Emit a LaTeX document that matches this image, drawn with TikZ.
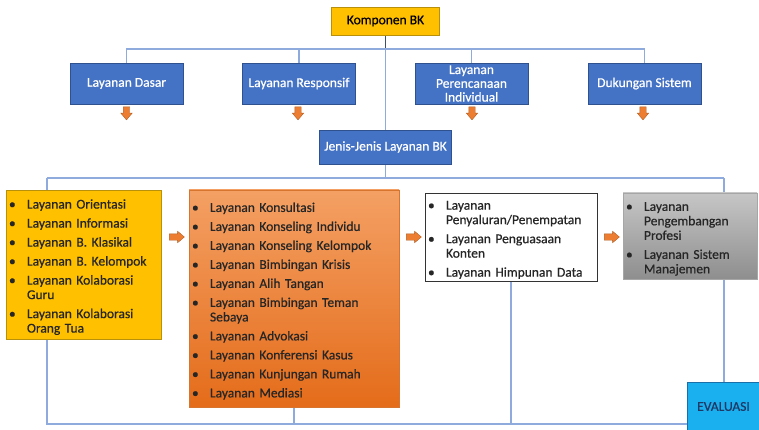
\documentclass[tikz,border=0pt]{standalone}
\usepackage{fontspec}
\setmainfont{Carlito}[FakeBold=0.6]
\usetikzlibrary{shapes.arrows,backgrounds}
\definecolor{gold}{HTML}{FFC000}
\definecolor{golddark}{HTML}{B8900A}
\definecolor{bluebox}{HTML}{4472C4}
\definecolor{blueedge}{HTML}{2F528F}
\definecolor{linec}{HTML}{8FAADC}
\definecolor{linedark}{HTML}{3E4F6A}
\definecolor{orangetop}{HTML}{F4A064}
\definecolor{orangebot}{HTML}{E46C1A}
\definecolor{orangeedge}{HTML}{D7742E}
\definecolor{arrowc}{HTML}{ED7D31}
\definecolor{arrowedge}{HTML}{B05F24}
\definecolor{graytop}{HTML}{C6C6C6}
\definecolor{graybot}{HTML}{8E8E8E}
\definecolor{evalc}{HTML}{1AAFEF}
\definecolor{evaledge}{HTML}{1B6FA8}
\definecolor{evaltext}{HTML}{1F3864}
\definecolor{listtext}{HTML}{262626}
\newcommand{\fsz}{\fontsize{13.5}{14.5}\selectfont}
\newenvironment{blist}{\begin{list}{\textbullet}{\setlength\leftmargin{18pt}\setlength\labelwidth{18pt}\setlength\labelsep{0pt}\setlength\itemsep{4.5pt}\setlength\parsep{0pt}\setlength\topsep{0pt}\setlength\partopsep{0pt}\renewcommand\makelabel[1]{##1\hfil}}}{\end{list}}
\tikzset{
  bluenode/.style={draw=blueedge, line width=0.6pt, fill=bluebox, text=white, minimum width=113pt, minimum height=41pt, inner sep=1pt, align=center, font=\fsz},
  listbox/.style={inner xsep=3pt, inner ysep=0pt, align=left, font=\fsz, text=listtext},
  conn/.style={draw=linec, line width=1.3pt},
  blockarrow/.style={single arrow, fill=arrowc, draw=arrowedge, line width=0.4pt, single arrow head extend=2.5pt, single arrow tip angle=80},
  darrow/.style={blockarrow, shape border rotate=270, inner xsep=3pt, inner ysep=0pt, minimum height=13pt},
  rarrow/.style={blockarrow, inner xsep=0pt, inner ysep=3pt, minimum height=15pt}
}
\begin{document}
\begin{tikzpicture}[x=1pt,y=-1pt]
\useasboundingbox (0,0) rectangle (759,430);
% top
\node[draw=golddark, line width=0.7pt, fill=gold, minimum width=108pt, minimum height=28pt, font=\fsz, inner sep=1pt] (komp) at (385.5,21) {Komponen BK};
\node[bluenode] (dasar) at (126.5,83.5) {Layanan Dasar};
\node[bluenode] (resp) at (299,83.5) {Layanan Responsif};
\node[bluenode, font=\fontsize{13.5}{13.8}\selectfont] (peren) at (471.5,83.5) {Layanan\\Perencanaan\\Individual};
\node[bluenode] (duk) at (644.5,83.5) {Dukungan Sistem};
\node[darrow] (d1) at (126.5,111.5) {};
\node[darrow] (d2) at (298,111.5) {};
\node[darrow] (d3) at (472,111.5) {};
\node[darrow] (d4) at (643,111.5) {};
\node[bluenode, minimum width=132pt, minimum height=34pt] (jenis) at (385.5,147) {Jenis-Jenis Layanan BK};
% list boxes
\node[listbox, draw=golddark, line width=0.6pt, fill=gold, text width=149pt, minimum height=149pt] (yel) at (83.5,264.5) {%
\begin{blist}
\item Layanan Orientasi
\item Layanan Informasi
\item Layanan B. Klasikal
\item Layanan B. Kelompok
\item Layanan Kolaborasi\\Guru
\item Layanan Kolaborasi\\Orang Tua
\end{blist}};
\node[listbox, draw=orangeedge, line width=0.4pt, top color=orangetop, bottom color=orangebot, text width=204pt, minimum height=217pt] (oran) at (294,298.5) {%
\begin{blist}
\item Layanan Konsultasi
\item Layanan Konseling Individu
\item Layanan Konseling Kelompok
\item Layanan Bimbingan Krisis
\item Layanan Alih Tangan
\item Layanan Bimbingan Teman\\Sebaya
\item Layanan Advokasi
\item Layanan Konferensi Kasus
\item Layanan Kunjungan Rumah
\item Layanan Mediasi
\end{blist}};
\node[listbox, draw=black!80, line width=0.8pt, fill=white, text width=166pt, minimum height=88pt] (wh) at (511,237) {%
\begin{blist}
\item Layanan\\Penyaluran/Penempatan
\item Layanan Penguasaan\\Konten
\item Layanan Himpunan Data
\end{blist}};
\node[listbox, draw=gray!70, line width=0.3pt, top color=graytop, bottom color=graybot, text width=128pt, minimum height=86pt] (gr) at (690,236) {%
\begin{blist}
\item Layanan\\Pengembangan\\Profesi
\item Layanan Sistem\\Manajemen
\end{blist}};
\node[rarrow] (r1) at (175,237) {};
\node[rarrow] (r2) at (412,237) {};
\node[rarrow] (r3) at (610,237) {};
\node[draw=evaledge, line width=0.6pt, fill=evalc, text=evaltext, font=\fsz, minimum width=73pt, minimum height=49pt, inner sep=0pt] (eval) at (723.5,406.5) {EVALUASI};
% connectors
\coordinate (bar) at (385.5,49);
\coordinate (bl) at (47,178);
\coordinate (br) at (724,178);
\coordinate (botl) at (47,424);
\begin{scope}[on background layer]
\draw[line width=1.3pt, draw=linedark] (komp.south) -- (komp.south |- bar);
\draw[conn] (dasar.north) -- (dasar.north |- bar) -- (duk.north |- bar) -- (duk.north);
\draw[conn] (resp.north) -- (resp.north |- bar);
\draw[conn] (peren.north) -- (peren.north |- bar);
\draw[conn] (bar) -- (jenis.north);
\draw[conn] (jenis.south) -- (jenis.south |- bl);
\draw[conn] (bl) -- (br);
\draw[conn] (bl) -- (botl) -- (botl -| eval.west);
\draw[conn] (br) -- (br |- eval.north);
\draw[conn] (oran.south) -- (oran.south |- botl);
\draw[conn] (wh.south) -- (wh.south |- botl);
\end{scope}
\end{tikzpicture}
\end{document}
